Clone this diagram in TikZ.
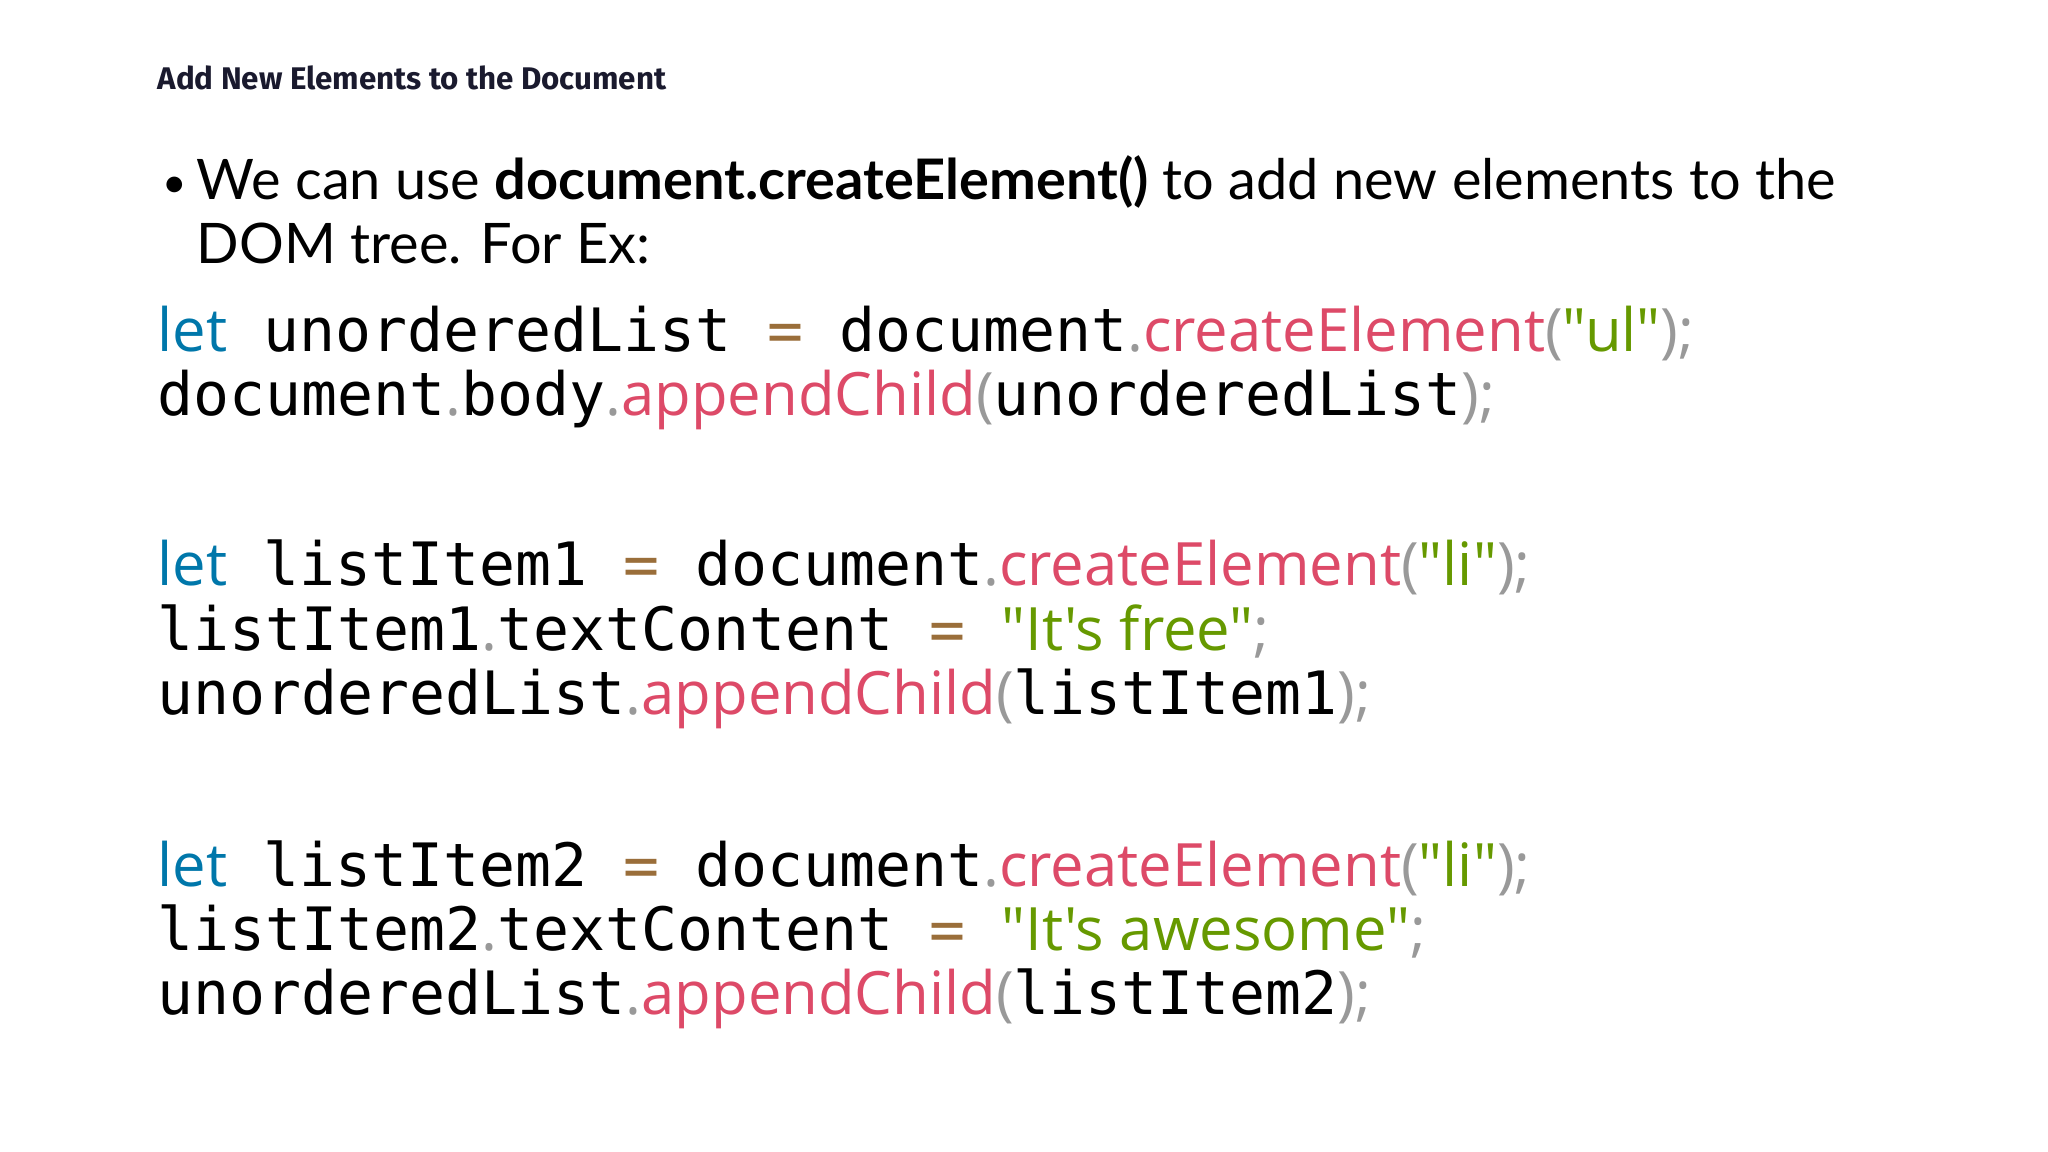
\documentclass[tikz,border=0pt]{standalone}
\usepackage{fontspec}
\setmainfont{Open Sans}
\newfontfamily\titlefont{Fira Sans}
\newfontfamily\bodyfont{Lato}
\newfontfamily\codemono{DejaVu Sans Mono}
\newfontfamily\codesans{Open Sans}
\definecolor{kw}{HTML}{0077AA}
\definecolor{op}{HTML}{9A6E3A}
\definecolor{fn}{HTML}{DD4A68}
\definecolor{str}{HTML}{669900}
\definecolor{pun}{HTML}{999999}
\definecolor{ttl}{HTML}{1A1A2E}
\newcommand{\K}[1]{{\codesans\color{kw}#1}}
\newcommand{\M}[1]{{\codemono\color{black}#1}}
\newcommand{\F}[1]{{\codesans\color{fn}#1}}
\newcommand{\Sg}[1]{{\codesans\color{str}#1}}
\newcommand{\Pu}[1]{{\codesans\color{pun}#1}}
\newcommand{\Op}[1]{{\codemono\color{op}#1}}
\newcommand{\Sp}{{\codemono\ }}
\begin{document}
\begin{tikzpicture}[x=0.01cm,y=-0.01cm,
  code/.style={anchor=base west,inner sep=0,font=\fontsize{17}{20}\selectfont}]
\useasboundingbox (0,0) rectangle (2048,1152);
\node[anchor=base west,inner sep=0,font=\titlefont\bfseries\fontsize{8.9}{10}\selectfont,text=ttl] (title) at (157,90) {Add New Elements to the Document};
\node[anchor=base west,inner sep=0,font=\bodyfont\fontsize{12}{18}\selectfont] (bul) at (162,198) {•};
\node[anchor=base west,inner sep=0,font=\bodyfont\fontsize{15.9}{18}\selectfont] (b1) at (196,200) {We can use \textbf{document.createElement()} to add new elements to the};
\node[anchor=base west,inner sep=0,font=\bodyfont\fontsize{15.9}{18}\selectfont] (b2) at (196,264) {DOM tree. For Ex:};
\node[code] (c1) at (157,352) {\K{let}\Sp\M{unorderedList}\Sp\Op{=}\Sp\M{document}\Pu{.}\F{createElement}\Pu{(}\Sg{"ul"}\Pu{);}};
\node[code] (c2) at (157,416) {\M{document}\Pu{.}\M{body}\Pu{.}\F{appendChild}\Pu{(}\M{unorderedList}\Pu{);}};
\node[code] (c3) at (157,586) {\K{let}\Sp\M{listItem1}\Sp\Op{=}\Sp\M{document}\Pu{.}\F{createElement}\Pu{(}\Sg{"li"}\Pu{);}};
\node[code] (c4) at (157,650) {\M{listItem1}\Pu{.}\M{textContent}\Sp\Op{=}\Sp\Sg{"It's free"}\Pu{;}};
\node[code] (c5) at (157,714) {\M{unorderedList}\Pu{.}\F{appendChild}\Pu{(}\M{listItem1}\Pu{);}};
\node[code] (c6) at (157,886) {\K{let}\Sp\M{listItem2}\Sp\Op{=}\Sp\M{document}\Pu{.}\F{createElement}\Pu{(}\Sg{"li"}\Pu{);}};
\node[code] (c7) at (157,950) {\M{listItem2}\Pu{.}\M{textContent}\Sp\Op{=}\Sp\Sg{"It's awesome"}\Pu{;}};
\node[code] (c8) at (157,1014) {\M{unorderedList}\Pu{.}\F{appendChild}\Pu{(}\M{listItem2}\Pu{);}};
\end{tikzpicture}
\end{document}
